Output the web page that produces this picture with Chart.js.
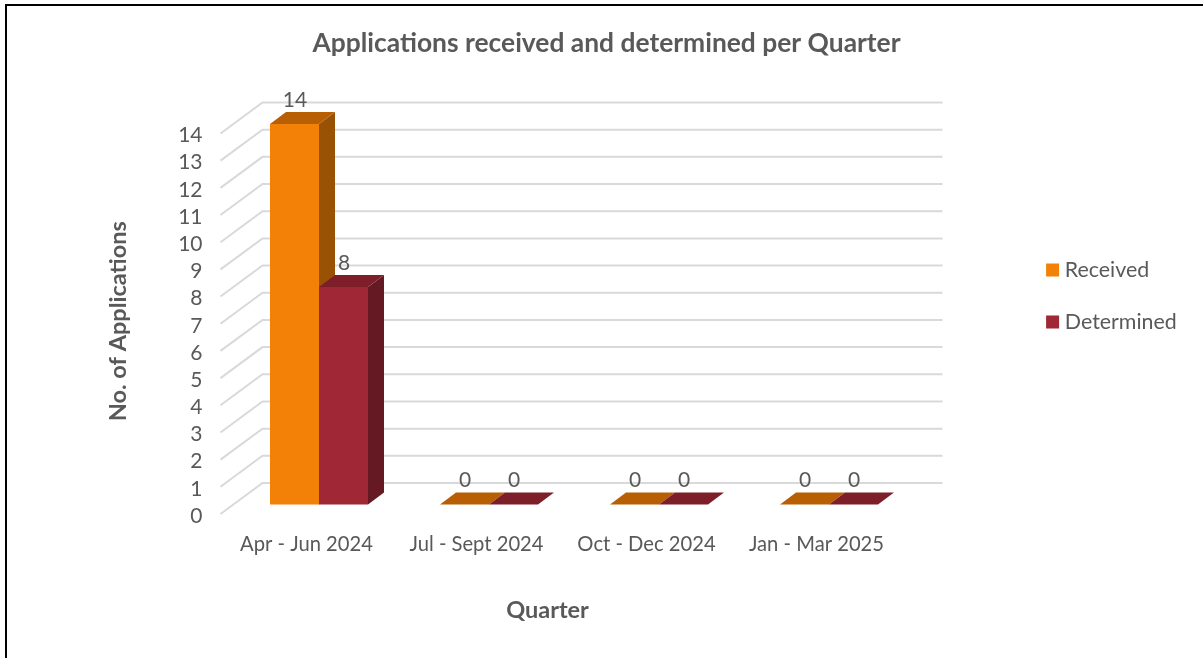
<!DOCTYPE html>
<html>
<head>
<meta charset="utf-8">
<style>
	html, body { margin: 0; padding: 0; background: #fff; overflow: hidden; }
	#frame { position: absolute; left: 5px; top: 4px; width: 1198px; height: 654px; border: solid #000; border-width: 2px 0 0 2px; box-sizing: border-box; pointer-events: none; }
	canvas { display: block; }
</style>
<script src="https://cdn.jsdelivr.net/npm/chart.js@4/dist/chart.umd.min.js"></script>
</head>
<body>
<canvas id="chart" width="1203" height="658"></canvas>
<div id="frame"></div>
<script>
const quarters   = ['Apr - Jun 2024', 'Jul - Sept 2024', 'Oct - Dec 2024', 'Jan - Mar 2025'];
const received   = [14, 0, 0, 0];
const determined = [8, 0, 0, 0];

const TEXT = '#595959';
const FONT = 'Lato, Carlito, sans-serif';

// bar faces: front, top, side
const faces = [
	{ front: '#f38107', top: '#b85f04', side: '#995203' },
	{ front: '#a02735', top: '#7d1e29', side: '#651923' }
];

// fake 3D: bars sit mid way in a floor that runs from the front edge to the back wall
const barDepth   = { x: 16, y: -12 };
const wallBack   = { x: 28.5, y: -21.5 };
const wallFront  = { x: -13.5, y: 9.5 };

function poly(ctx, color, pts) {
	ctx.fillStyle = color;
	ctx.beginPath();
	pts.forEach((p, i) => i ? ctx.lineTo(p[0], p[1]) : ctx.moveTo(p[0], p[1]));
	ctx.closePath();
	ctx.fill();
}

const walls3d = {
	id: 'walls3d',
	// the plot is off centre in the original, so its titles and legend get nudged
	afterLayout(chart) {
		const { x, y } = chart.scales;
		x.right -= 53;
		y.bottom += 14;
		chart.titleBlock.right = chart.width;
		chart.legend.left += 106.5;
		chart.legend.right = chart.width;
		chart.legend.top -= 33;
		chart.legend.bottom -= 33;
	},
	beforeDatasetsDraw(chart) {
		const { ctx, chartArea, scales } = chart;
		ctx.save();
		ctx.strokeStyle = '#d9d9d9';
		ctx.lineWidth = 2;
		scales.y.ticks.forEach(t => {
			const py = scales.y.getPixelForValue(t.value);
			ctx.beginPath();
			ctx.moveTo(chartArea.left + wallFront.x, py + wallFront.y);
			ctx.lineTo(chartArea.left + wallBack.x, py + wallBack.y);
			ctx.lineTo(chartArea.right + wallBack.x, py + wallBack.y);
			ctx.stroke();
		});
		chart.data.datasets.forEach((ds, i) => {
			chart.getDatasetMeta(i).data.forEach(bar => {
				const l = bar.x - bar.width / 2, r = bar.x + bar.width / 2;
				const dx = barDepth.x, dy = barDepth.y;
				if (bar.base - bar.y > 0.5) {
					poly(ctx, faces[i].side, [[r, bar.y], [r + dx, bar.y + dy], [r + dx, bar.base + dy], [r, bar.base]]);
				}
				poly(ctx, faces[i].top, [[l, bar.y], [l + dx, bar.y + dy], [r + dx, bar.y + dy], [r, bar.y]]);
			});
		});
		ctx.restore();
	},
	afterDatasetsDraw(chart) {
		const { ctx } = chart;
		ctx.save();
		ctx.font = '21px ' + FONT;
		ctx.fillStyle = TEXT;
		ctx.textAlign = 'center';
		ctx.textBaseline = 'middle';
		chart.data.datasets.forEach((ds, i) => {
			chart.getDatasetMeta(i).data.forEach((bar, k) => {
				ctx.fillText(String(ds.data[k]), bar.x + 0.5, bar.y - 24);
			});
		});
		ctx.restore();
	}
};

new Chart(document.getElementById('chart'), {
	type: 'bar',
	plugins: [walls3d],
	data: {
		labels: quarters,
		datasets: [
			{ label: 'Received', data: received, backgroundColor: faces[0].front },
			{ label: 'Determined', data: determined, backgroundColor: faces[1].front }
		]
	},
	options: {
		responsive: false,
		animation: false,
		events: [],
		layout: { padding: { left: 10, right: 189, top: 0, bottom: 0 } },
		datasets: { bar: { barPercentage: 1, categoryPercentage: 98 / 170 } },
		plugins: {
			title: {
				display: true,
				text: 'Applications received and determined per Quarter',
				color: TEXT,
				font: { family: FONT, size: 26.4, weight: 'bold' },
				padding: { top: 27.2, bottom: 65.1 }
			},
			legend: {
				position: 'right',
				maxWidth: 100,
				labels: {
					color: TEXT,
					font: { family: FONT, size: 21.4 },
					usePointStyle: true,
					pointStyle: 'rect',
					boxWidth: 3,
					boxHeight: 13,
					padding: 30.6
				}
			},
			tooltip: { enabled: false }
		},
		scales: {
			x: {
				afterFit: s => { s.height = 153.5; },
				grid: { display: false },
				border: { display: false },
				ticks: { color: TEXT, font: { family: FONT, size: 20.2 }, padding: 19.5, labelOffset: -12.5, maxRotation: 0 },
				title: {
					display: true,
					text: 'Quarter',
					color: TEXT,
					font: { family: FONT, size: 23.5, weight: 'bold' },
					padding: { top: 0, bottom: 33.9 }
				}
			},
			y: {
				min: 0,
				max: 14,
				afterFit: s => { s.width = 224; },
				grid: { display: false },
				border: { display: false },
				ticks: { stepSize: 1, autoSkip: false, color: TEXT, font: { family: FONT, size: 21 }, padding: 23.5, labelOffset: 11.5 },
				title: {
					display: true,
					text: 'No. of Applications',
					color: TEXT,
					font: { family: FONT, size: 23.5, weight: 'bold' },
					padding: { top: 93.9, bottom: 0 }
				}
			}
		}
	}
});
</script>
</body>
</html>
